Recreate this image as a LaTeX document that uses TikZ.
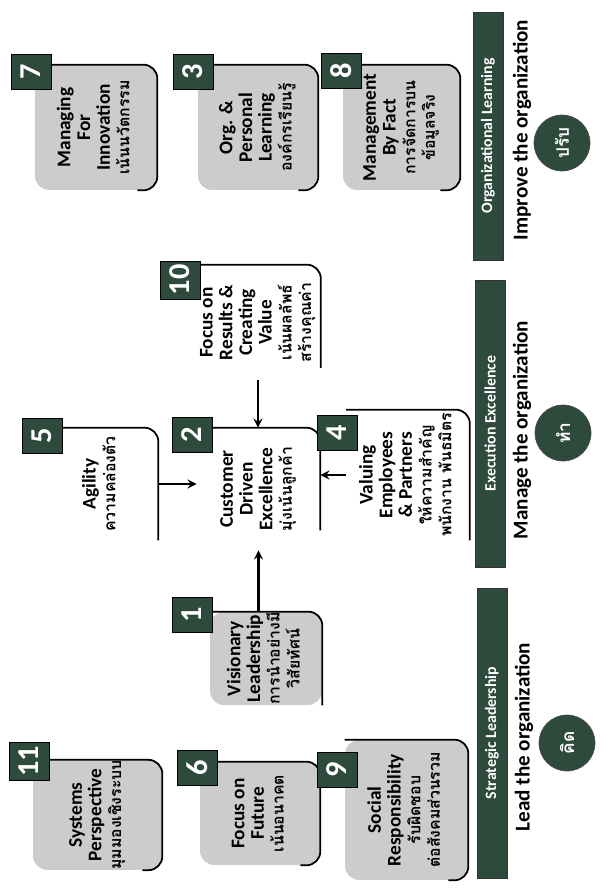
\documentclass[tikz,border=0pt]{standalone}
\usepackage{fontspec}
\usepackage{graphicx}
\setmainfont{Carlito}
\newfontfamily\thaifont[Script=Thai,Scale=0.82]{Loma}
\definecolor{dkgreen}{HTML}{2D4A3D}
\newcommand{\vtext}[1]{\rotatebox{90}{\begin{tabular}{@{}c@{}}#1\end{tabular}}}
\newcommand{\thai}[1]{{\thaifont\bfseries #1}}

\begin{document}
\begin{tikzpicture}[x=0.02cm,y=-0.02cm,
        tag/.style={fill=dkgreen,draw=black,text=white,font=\bfseries\LARGE,minimum width=0.8cm,minimum height=0.7cm,inner sep=2pt},
        body/.style={fill=black!20,rounded corners=8pt,font=\fontsize{11}{11.2}\selectfont\bfseries,inner sep=0pt},
        openbody/.style={font=\fontsize{11}{11.2}\selectfont\bfseries,inner sep=0pt},
        edge/.style={line width=1pt,rounded corners=8pt},
        link/.style={->,>=stealth,line width=1.3pt},
        bar/.style={fill=dkgreen,draw=black!80,text=white,font=\bfseries\small,minimum width=0.6cm,inner sep=0pt},
        motto/.style={font=\bfseries\large},
        seal/.style={circle,fill=dkgreen,draw=black!70,text=white,minimum size=1.12cm,inner sep=0pt,font=\large}
    ]
        \useasboundingbox (0,0) rectangle (605,888);

        \node[body,minimum width=2.44cm,minimum height=2.5cm] (b7) at (96,127.5) {\vtext{Managing\\For\\Innovation\\\thai{เน้นนวัตกรรม}}};
        \node[body,minimum width=2.4cm,minimum height=2.5cm] (b3) at (258,127.5) {\vtext{Org. \&\\Personal\\Learning\\\thai{องค์กรเรียนรู้}}};
        \node[body,minimum width=2.34cm,minimum height=2.5cm] (b8) at (401.5,127.5) {\vtext{Management\\By Fact\\\thai{การจัดการบน}\\\thai{ข้อมูลจริง}}};
        \node[body,minimum width=2.58cm,minimum height=2.12cm] (b11) at (97.5,815) {\vtext{Systems\\Perspective\\\thai{มุมมองเชิงระบบ}}};
        \node[body,minimum width=2.4cm,minimum height=2.06cm] (b6) at (260,813.5) {\vtext{Focus on\\Future\\\thai{เน้นอนาคต}}};
        \node[body,minimum width=2.46cm,minimum height=2.8cm] (b9) at (406.5,810) {\vtext{Social\\Responsibility\\\thai{รับผิดชอบ}\\\thai{ต่อสังคมส่วนรวม}}};
        \node[body,minimum width=2.24cm,minimum height=1.86cm] (b1) at (266,658.5) {\vtext{Visionary\\Leadership\\\thai{การนำอย่างมี}\\\thai{วิสัยทัศน์}}};

        \node[openbody,minimum width=2.26cm,minimum height=2.24cm] (b5) at (101.5,484) {\vtext{Agility\\\thai{ความคล่องตัว}}};
        \node[openbody,minimum width=2.5cm,minimum height=2.3cm] (b10) at (258,322.5) {\vtext{Focus on\\Results \&\\Creating\\Value\\\thai{เน้นผลลัพธ์}\\\thai{สร้างคุณค่า}}};
        \node[openbody,minimum width=2.46cm,minimum height=2.44cm] (b2) at (258.5,489) {\vtext{Customer\\Driven\\Excellence\\\thai{มุ่งเน้นลูกค้า}}};
        \node[openbody,minimum width=2.46cm,minimum height=2.6cm] (b4) at (408,475) {\vtext{Valuing\\Employees\\\& Partners\\\thai{ให้ความสำคัญ}\\\thai{พนักงาน พันธมิตร}}};

        \draw[edge] (b7.north west) -- (b7.north east) -- (b7.south east) -- ([xshift=-0.4cm]b7.south east);
        \draw[edge] (b3.north west) -- (b3.north east) -- (b3.south east) -- ([xshift=-0.4cm]b3.south east);
        \draw[edge] (b8.north west) -- (b8.north east) -- (b8.south east) -- ([xshift=-0.4cm]b8.south east);
        \draw[edge] (b11.north west) -- (b11.north east) -- (b11.south east) -- ([xshift=-0.4cm]b11.south east);
        \draw[edge] (b6.north west) -- (b6.north east) -- (b6.south east) -- ([xshift=-0.4cm]b6.south east);
        \draw[edge] (b9.north west) -- (b9.north east) -- (b9.south east) -- ([xshift=-0.4cm]b9.south east);
        \draw[edge] (b1.north west) -- (b1.north east) -- (b1.south east);
        \draw[edge] (b5.north west) -- (b5.north east) -- (b5.south east);
        \draw[edge] (b10.north west) -- (b10.north east) -- ([yshift=0.25cm]b10.south east);
        \draw[edge] (b2.north west) -- (b2.north east) -- ([yshift=0.4cm]b2.south east);
        \draw[edge] (b4.north west) -- (b4.north east) -- (b4.south east);

        \node[tag] (t7) at (31,72) {\rotatebox{90}{7}};
        \node[tag] (t3) at (193,72) {\rotatebox{90}{3}};
        \node[tag] (t8) at (341,71) {\rotatebox{90}{8}};
        \node[tag] (t10) at (180,280) {\rotatebox{90}{10}};
        \node[tag] (t5) at (42,435.5) {\rotatebox{90}{5}};
        \node[tag] (t2) at (192,434.5) {\rotatebox{90}{2}};
        \node[tag] (t4) at (337,432.5) {\rotatebox{90}{4}};
        \node[tag] (t1) at (192,615) {\rotatebox{90}{1}};
        \node[tag] (t11) at (29,761) {\rotatebox{90}{11}};
        \node[tag] (t6) at (197,768) {\rotatebox{90}{6}};
        \node[tag] (t9) at (337,770) {\rotatebox{90}{9}};

        \draw[link] (b5.east) -- (b5.east -| b2.west);
        \draw[link] (b4.west) -- (b4.west -| b2.east);
        \draw[link] (b10.south) -- (b10.south |- b2.north);
        \draw[link] (b1.north -| b2.south) -- (b2.south);

        \node[bar,minimum height=4.96cm] (s1) at (488,136) {\rotatebox{90}{Organizational Learning}};
        \node[bar,minimum height=5.74cm] (s2) at (490,423.5) {\rotatebox{90}{Execution Excellence}};
        \node[bar,minimum height=5.8cm] (s3) at (492,733) {\rotatebox{90}{Strategic Leadership}};

        \node[motto] (m1) at (522,130) {\rotatebox{90}{Improve the organization}};
        \node[motto] (m2) at (522,430) {\rotatebox{90}{Manage the organization}};
        \node[motto] (m3) at (524,737) {\rotatebox{90}{Lead the organization}};

        \node[seal] (c1) at (562,143) {\rotatebox{90}{\thai{ปรับ}}};
        \node[seal] (c2) at (563,433) {\rotatebox{90}{\thai{ทำ}}};
        \node[seal] (c3) at (567,743) {\rotatebox{90}{\thai{คิด}}};
    \end{tikzpicture}
\end{document}
